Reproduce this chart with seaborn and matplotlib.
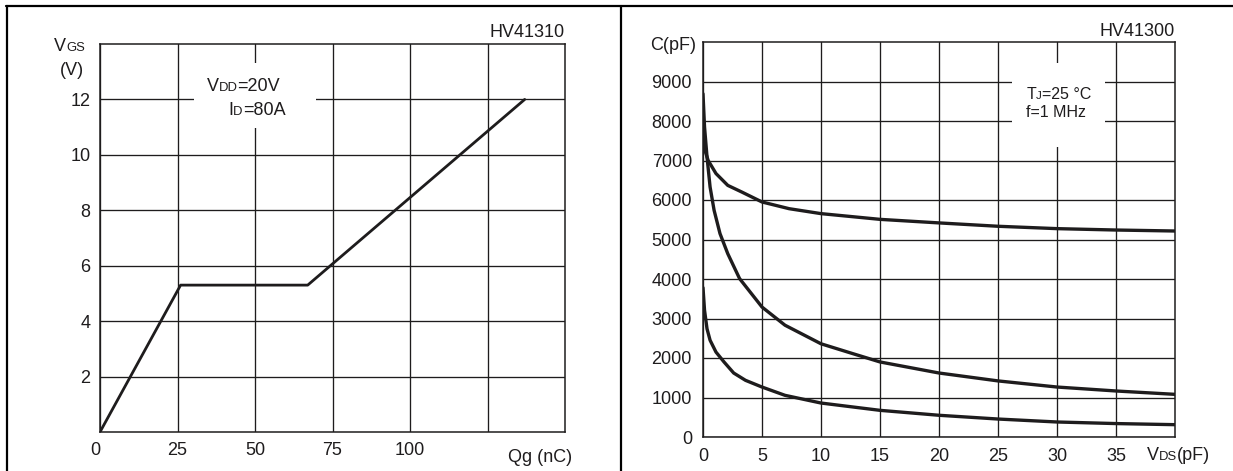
import seaborn as sns
import matplotlib.pyplot as plt
import pandas as pd
from matplotlib.lines import Line2D
from matplotlib.patches import Rectangle

sns.set_style("white")
plt.rcParams['font.family'] = ['Liberation Sans', 'DejaVu Sans']

# gate charge curve (left)
qg = [0, 26, 67, 137]
vgs = [0, 5.3, 5.3, 12]

# capacitance curves (right)
vds_top = [0, 0.2, 0.44, 1.1, 2.1, 3.3, 5, 7.3, 10, 15, 20, 25, 30, 35, 40]
c_top = [7640, 7220, 7000, 6670, 6370, 6200, 5950, 5780, 5655, 5510, 5420, 5335, 5275, 5240, 5215]
vds_mid = [0, 0.13, 0.34, 0.6, 0.94, 1.44, 2.1, 3.1, 5, 6.95, 10, 12.7, 15, 20, 25, 30, 35, 40]
c_mid = [8690, 7850, 7090, 6330, 5740, 5150, 4640, 4010, 3290, 2830, 2360, 2110, 1900, 1620, 1420, 1265, 1165, 1080]
vds_low = [0, 0.13, 0.34, 0.6, 1.1, 1.78, 2.6, 3.6, 5, 6.95, 10, 15, 20, 25, 30, 35, 40]
c_low = [3780, 3210, 2740, 2450, 2150, 1900, 1620, 1435, 1265, 1055, 860, 675, 550, 455, 380, 340, 312]

ink = "#1e1c1d"
fs = 13


def sc_label(ax, x, y, parts, size=fs, coords='axes fraction'):
    # text pieces on one baseline, odd pieces in small caps size
    prev = None
    for i, p in enumerate(parts):
        s = size * 0.72 if i % 2 else size
        if prev is None:
            prev = ax.annotate(p, xy=(x, y), xycoords=coords, va='baseline', ha='left',
                               fontsize=s, color=ink, annotation_clip=False)
        else:
            prev = ax.annotate(p, xy=(1, y), xycoords=(prev, coords), va='baseline', ha='left',
                               fontsize=s, color=ink, annotation_clip=False)
    return prev


fig = plt.figure(figsize=(12.33, 4.71), dpi=100)
W, H = 1233, 471
ax1 = fig.add_axes([100 / W, (H - 432) / H, 465 / W, 388 / H])
ax2 = fig.add_axes([703 / W, (H - 437) / H, 472 / W, 395 / H])

# ---- left: gate charge
sns.lineplot(x=qg, y=vgs, ax=ax1, color=ink, lw=2.0, zorder=4)
ax1.set_xlim(0, 150)
ax1.set_ylim(0, 14)
ax1.set_xticks([0, 25, 50, 75, 100, 125])
ax1.set_xticklabels(['0', '25', '50', '75', '100', ''])
ax1.set_yticks([2, 4, 6, 8, 10, 12])
ax1.get_xticklabels()[0].set_ha('right')
ax1.add_patch(Rectangle((0.202, 0.784), 0.263, 0.167, transform=ax1.transAxes,
                        facecolor='white', edgecolor='none', zorder=3))
sc_label(ax1, 0.229, 0.88, ['V', 'DD', '=20V'])
sc_label(ax1, 0.276, 0.817, ['I', 'D', '=80A'])
sc_label(ax1, -0.099, 0.982, ['V', 'GS'])
ax1.text(-0.06, 0.92, '(V)', transform=ax1.transAxes, ha='center', va='baseline', fontsize=fs, color=ink)
ax1.text(1.0, 1.018, 'HV41310', transform=ax1.transAxes, ha='right', va='baseline', fontsize=fs, color=ink)
ax1.text(0.946, -0.077, 'Qg (nC)', transform=ax1.transAxes, ha='center', va='baseline', fontsize=fs, color=ink)

# ---- right: capacitance
df = pd.concat([
    pd.DataFrame({'vds': vds_top, 'c': c_top, 'curve': 'top'}),
    pd.DataFrame({'vds': vds_mid, 'c': c_mid, 'curve': 'mid'}),
    pd.DataFrame({'vds': vds_low, 'c': c_low, 'curve': 'low'}),
])
sns.lineplot(data=df, x='vds', y='c', hue='curve', palette=[ink] * 3, lw=2.4,
             legend=False, ax=ax2, zorder=4)
ax2.set_xlim(0, 40)
ax2.set_ylim(0, 10000)
ax2.set_xticks(range(0, 40, 5))
ax2.set_yticks(range(0, 10000, 1000))
ax2.add_patch(Rectangle((0.655, 0.734), 0.197, 0.213, transform=ax2.transAxes,
                        facecolor='white', edgecolor='none', zorder=3))
sc_label(ax2, 0.685, 0.856, ['T', 'J', '=25 °C'], size=11.5)
sc_label(ax2, 0.685, 0.81, ['f=1 MHz'], size=11.5)
ax2.text(-0.015, 0.98, 'C(pF)', transform=ax2.transAxes, ha='right', va='baseline', fontsize=fs, color=ink)
ax2.text(1.0, 1.015, 'HV41300', transform=ax2.transAxes, ha='right', va='baseline', fontsize=fs, color=ink)
sc_label(ax2, 0.94, -0.058, ['V', 'DS', '(pF)'])

for ax in (ax1, ax2):
    ax.set_xlabel('')
    ax.set_ylabel('')
    ax.grid(True, color=ink, lw=0.95, zorder=1)
    ax.set_axisbelow(True)
    ax.tick_params(length=0, labelsize=fs, labelcolor=ink, pad=7)
    for sp in ax.spines.values():
        sp.set_color(ink)
        sp.set_linewidth(1.1)
ax2.tick_params(pad=8)

# outer frame and divider
for xs, ys in [((6 / W, 1), (1 - 5.5 / H, 1 - 5.5 / H)),
               ((6.5 / W, 6.5 / W), (0, 1 - 5.5 / H)),
               ((621 / W, 621 / W), (0, 1 - 5.5 / H))]:
    fig.add_artist(Line2D(xs, ys, color='black', lw=1.6, transform=fig.transFigure))

fig.savefig('out.png', dpi=100)
